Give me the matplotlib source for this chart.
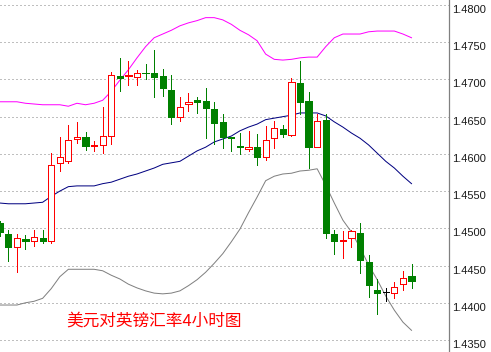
import matplotlib
matplotlib.use('Agg')
import matplotlib.pyplot as plt
from matplotlib.patches import Rectangle

# 4h candles, USD/GBP
opens = [1.4507, 1.4492, 1.4475, 1.4486, 1.4483, 1.4487, 1.4483, 1.4588, 1.4590, 1.4620,
         1.4623, 1.4610, 1.4612, 1.4624, 1.4705, 1.4704, 1.4703, 1.4709, 1.4709, 1.4705,
         1.4686, 1.4650, 1.4667, 1.4672, 1.4671, 1.4660, 1.4643, 1.4623, 1.4610, 1.4607,
         1.4609, 1.4596, 1.4621, 1.4633, 1.4625, 1.4695, 1.4671, 1.4609, 1.4645, 1.4492,
         1.4483, 1.4487, 1.4494, 1.4455, 1.4417, 1.4414, 1.4413, 1.4425, 1.4436]
highs = [1.4510, 1.4498, 1.4492, 1.4491, 1.4498, 1.4498, 1.4601, 1.4623, 1.4639, 1.4643,
         1.4629, 1.4617, 1.4663, 1.4710, 1.4729, 1.4725, 1.4713, 1.4721, 1.4740, 1.4714,
         1.4706, 1.4676, 1.4682, 1.4676, 1.4688, 1.4670, 1.4653, 1.4623, 1.4628, 1.4631,
         1.4627, 1.4637, 1.4644, 1.4639, 1.4702, 1.4725, 1.4683, 1.4653, 1.4653, 1.4498,
         1.4496, 1.4498, 1.4507, 1.4464, 1.4432, 1.4420, 1.4428, 1.4443, 1.4452]
lows = [1.4490, 1.4456, 1.4441, 1.4472, 1.4476, 1.4480, 1.4480, 1.4577, 1.4588, 1.4615,
        1.4605, 1.4604, 1.4601, 1.4613, 1.4684, 1.4692, 1.4692, 1.4701, 1.4676, 1.4678,
        1.4640, 1.4644, 1.4658, 1.4655, 1.4621, 1.4613, 1.4608, 1.4604, 1.4600, 1.4604,
        1.4585, 1.4592, 1.4608, 1.4623, 1.4624, 1.4654, 1.4581, 1.4609, 1.4487, 1.4465,
        1.4460, 1.4475, 1.4440, 1.4408, 1.4385, 1.4402, 1.4406, 1.4417, 1.4420]
closes = [1.4495, 1.4475, 1.4487, 1.4483, 1.4489, 1.4483, 1.4585, 1.4596, 1.4619, 1.4623,
          1.4611, 1.4612, 1.4624, 1.4706, 1.4702, 1.4706, 1.4709, 1.4708, 1.4703, 1.4688,
          1.4650, 1.4663, 1.4670, 1.4670, 1.4662, 1.4641, 1.4623, 1.4622, 1.4609, 1.4609,
          1.4596, 1.4619, 1.4635, 1.4627, 1.4697, 1.4670, 1.4609, 1.4644, 1.4494, 1.4483,
          1.4485, 1.4496, 1.4457, 1.4424, 1.4413, 1.4414, 1.4421, 1.4433, 1.4429]

# bollinger bands
upper = [1.4670, 1.4670, 1.4670, 1.4668, 1.4667, 1.4666, 1.4666, 1.4666, 1.4664, 1.4668,
         1.4666, 1.4668, 1.4672, 1.4684, 1.4699, 1.4713, 1.4729, 1.4744, 1.4756, 1.4761,
         1.4766, 1.4772, 1.4776, 1.4779, 1.4783, 1.4783, 1.4780, 1.4774, 1.4766, 1.4760,
         1.4752, 1.4734, 1.4727, 1.4726, 1.4727, 1.4729, 1.4730, 1.4730, 1.4744, 1.4756,
         1.4761, 1.4761, 1.4761, 1.4764, 1.4765, 1.4765, 1.4765, 1.4761, 1.4756]
middle = [1.4534, 1.4533, 1.4533, 1.4533, 1.4534, 1.4535, 1.4543, 1.4550, 1.4556, 1.4557,
          1.4557, 1.4557, 1.4560, 1.4562, 1.4566, 1.4570, 1.4573, 1.4577, 1.4581, 1.4586,
          1.4588, 1.4590, 1.4597, 1.4604, 1.4609, 1.4616, 1.4620, 1.4624, 1.4631, 1.4636,
          1.4640, 1.4646, 1.4648, 1.4650, 1.4652, 1.4655, 1.4655, 1.4655, 1.4651, 1.4643,
          1.4636, 1.4628, 1.4621, 1.4612, 1.4601, 1.4590, 1.4581, 1.4570, 1.4560]
lower = [1.4397, 1.4397, 1.4397, 1.4400, 1.4402, 1.4406, 1.4419, 1.4435, 1.4445, 1.4445,
         1.4445, 1.4445, 1.4443, 1.4437, 1.4432, 1.4425, 1.4420, 1.4416, 1.4413, 1.4412,
         1.4413, 1.4416, 1.4423, 1.4431, 1.4441, 1.4453, 1.4466, 1.4482, 1.4499, 1.4521,
         1.4542, 1.4564, 1.4570, 1.4573, 1.4574, 1.4577, 1.4578, 1.4580, 1.4558, 1.4534,
         1.4511, 1.4495, 1.4474, 1.4451, 1.4431, 1.4409, 1.4390, 1.4374, 1.4363]

yticks = [1.4350, 1.4400, 1.4450, 1.4500, 1.4550, 1.4600, 1.4650, 1.4700, 1.4750, 1.4800]
title = '美元对英镑汇率4小时图'

fig = plt.figure(figsize=(4.91, 3.52), dpi=100)
ax = fig.add_axes([0, 0, 449 / 491, 1])
ax.set_xlim(0.03, 52.37)
ax.set_ylim(1.43339, 1.48067)

# bands
idx = range(len(upper))
ax.plot(idx, upper, color='#ff00ff', lw=0.72, zorder=2)
ax.plot(idx, middle, color='#000080', lw=0.72, zorder=2)
ax.plot(idx, lower, color='#808080', lw=0.72, zorder=2)

# candles: red hollow = up, green filled = down
w = 0.72
for i, (o, h, l, c) in enumerate(zip(opens, highs, lows, closes)):
    if c > o:
        clr = '#ff0000'
        face = 'white'
    elif c < o:
        clr = '#008000'
        face = '#008000'
    else:
        clr = 'black'
        face = 'black'
    ax.vlines(i, l, h, color=clr, lw=0.72, zorder=3, antialiased=False)
    if c == o:
        ax.hlines(o, i - w / 2, i + w / 2, color=clr, lw=0.72, zorder=4, antialiased=False)
    else:
        ax.add_patch(Rectangle((i - w / 2, min(o, c)), w, abs(c - o), facecolor=face,
                               edgecolor=clr, lw=0.72, zorder=4, antialiased=False))

# right price axis
for s in ['top', 'left', 'bottom']:
    ax.spines[s].set_visible(False)
ax.spines['right'].set_color('#808080')
ax.spines['right'].set_linewidth(0.9)
ax.set_xticks([])
ax.yaxis.tick_right()
ax.set_yticks(yticks)
ax.set_yticklabels(['%.4f' % v for v in yticks])
ax.tick_params(axis='y', length=0, pad=2, labelsize=8, labelcolor='#1a1a1a')
for lbl in ax.get_yticklabels():
    lbl.set_fontfamily('Liberation Sans')
    lbl.set_va('top')
ax.grid(axis='y', color='#808080', linestyle=(0, (1, 3)), linewidth=0.72)
ax.set_axisbelow(True)

fig.text(66 / 491, 1 - 321 / 352, title, color='red', fontsize=12,
         family=['Noto Sans CJK SC', 'DejaVu Sans'], va='center', ha='left')

fig.savefig('out.png', dpi=100)
